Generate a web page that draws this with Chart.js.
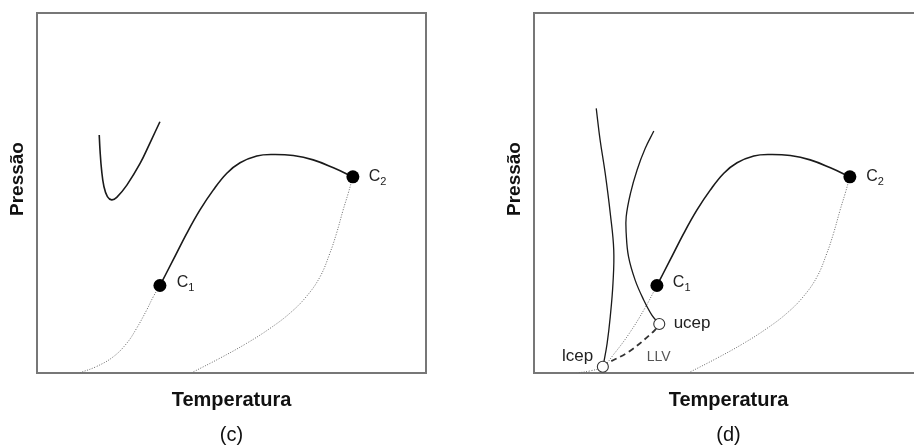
<!DOCTYPE html>
<html>
<head>
<meta charset="utf-8">
<script src="https://cdn.jsdelivr.net/npm/chart.js@4"></script>
<style>
  html, body { margin:0; padding:0; background:#fff; overflow:hidden; width:914px; height:448px; }
  #wc { position:absolute; left:0; top:0; width:457px; height:448px; }
  #wd { position:absolute; left:457px; top:0; width:500px; height:448px; }
</style>
</head>
<body>
<div id="wc"><canvas id="cc"></canvas></div>
<div id="wd"><canvas id="cd"></canvas></div>
<script>
// ---- data (arbitrary units: Temperatura 0-100, Pressão 0-100) ----
const c1Point = [31.6, 24.3];
const c2Point = [81.2, 54.5];
const lcepPoint = [17.7, 1.75];
const ucepPoint = [32.2, 13.6];

const solidT = [31.6, 35.0, 38.5, 41.9, 45.3, 48.8, 52.2, 56.5, 60.7, 65.9, 71.0, 76.2, 81.2];
const solidP = [24.3, 31.4, 38.8, 45.3, 50.8, 55.5, 58.4, 60.3, 60.7, 60.4, 59.2, 57.0, 54.5];

const dotC2T = [81.2, 80.0, 78.7, 77.0, 75.3, 72.8, 69.3, 65.0, 59.9, 53.9, 47.0, 39.8];
const dotC2P = [54.5, 49.9, 45.3, 38.8, 33.3, 26.8, 21.3, 16.6, 12.4, 8.25, 4.1, 0.1];

// panel (c)
const dotC1T_c = [31.6, 29.9, 28.2, 25.6, 23.1, 19.6, 15.3, 11.1];
const dotC1P_c = [24.3, 21.2, 17.5, 12.4, 8.3, 4.5, 1.8, 0.1];
const vT = [16.0, 16.2, 16.6, 17.2, 18.1, 19.2, 20.5, 23.1, 26.5, 29.0, 31.6];
const vP = [66.1, 61.9, 56.4, 51.8, 49.0, 48.1, 48.8, 52.2, 58.2, 63.8, 69.8];

// panel (d)
const dotC1T_d = [31.6, 28.5, 24.5, 20.5, 17.7, 14.5, 11.0];
const dotC1P_d = [24.3, 18.0, 11.0, 5.2, 1.75, 0.6, 0.0];
const leftT = [16.0, 17.0, 18.3, 19.6, 20.5, 20.3, 19.6, 18.8, 17.9, 17.7];
const leftP = [73.5, 64.7, 55.5, 44.4, 34.2, 24.9, 15.6, 8.25, 2.7, 1.75];
const midT = [30.8, 28.6, 26.5, 24.8, 23.7, 23.7, 24.3, 26.0, 28.2, 30.3, 32.2];
const midP = [67.2, 62.4, 56.4, 49.9, 43.4, 38.8, 32.3, 25.8, 20.3, 16.1, 13.6];
const llvT = [17.7, 19.0, 24.2, 30.6, 32.2];
const llvP = [1.75, 2.8, 5.8, 11.4, 13.6];

const xTitle = 'Temperatura';
const yTitle = 'Pressão';

function pts(T, P) { return T.map((t, i) => ({ x: t, y: P[i] })); }

const FONT = "'Liberation Sans', Arial, sans-serif";

function solidLine(T, P, w) {
  return { order: 2, data: pts(T, P), showLine: true, pointRadius: 0, borderColor: '#1a1a1a', borderWidth: w || 1.6, tension: 0.4, fill: false };
}
function dotLine(T, P) {
  return { order: 3, data: pts(T, P), showLine: true, pointRadius: 0, borderColor: '#666', borderWidth: 1, borderDash: [1, 1.6], tension: 0.4, fill: false };
}
function dashLine(T, P) {
  return { order: 2, data: pts(T, P), showLine: true, pointRadius: 0, borderColor: '#333', borderWidth: 1.8, borderDash: [6, 4], tension: 0.4, fill: false };
}
function filledPt(p) {
  return { order: 0, data: [{ x: p[0], y: p[1] }], showLine: false, pointRadius: 6.5, pointHoverRadius: 6.5, pointBackgroundColor: '#000', pointBorderColor: '#000', pointBorderWidth: 0, clip: false };
}
function openPt(p) {
  return { order: 0, data: [{ x: p[0], y: p[1] }], showLine: false, pointRadius: 5.5, pointHoverRadius: 5.5, pointBackgroundColor: '#fff', pointBorderColor: '#333', pointBorderWidth: 1.1, clip: false };
}

const framePlugin = {
  id: 'frame',
  beforeDatasetsDraw(chart) {
    const a = chart.chartArea, ctx = chart.ctx;
    ctx.save();
    ctx.strokeStyle = '#777';
    ctx.lineWidth = 2;
    ctx.strokeRect(a.left, a.top, a.right - a.left, a.bottom - a.top);
    ctx.restore();
  },
  afterDraw(chart) {
    const a = chart.chartArea, ctx = chart.ctx;
    ctx.save();
    ctx.translate(a.left - 19, a.top + 166);
    ctx.rotate(-Math.PI / 2);
    ctx.font = 'bold 19px ' + FONT;
    ctx.fillStyle = '#111';
    ctx.textAlign = 'center';
    ctx.textBaseline = 'middle';
    ctx.fillText(yTitle, 0, 0);
    ctx.restore();
  }
};

const labelPlugin = {
  id: 'labels',
  afterDatasetsDraw(chart, args, opts) {
    const ctx = chart.ctx, xs = chart.scales.x, ys = chart.scales.y;
    (opts.items || []).forEach(it => {
      const x = xs.getPixelForValue(it.t), y = ys.getPixelForValue(it.p);
      ctx.save();
      ctx.fillStyle = it.color || '#222';
      ctx.textAlign = 'left';
      ctx.textBaseline = 'middle';
      ctx.font = (it.size || 16) + 'px ' + FONT;
      ctx.fillText(it.text, x, y);
      if (it.sub) {
        const w = ctx.measureText(it.text).width;
        ctx.font = '11px ' + FONT;
        ctx.fillText(it.sub, x + w, y + 5);
      }
      ctx.restore();
    });
  }
};

function makeOptions(yWidth, padRight, letter, items) {
  return {
    responsive: true,
    maintainAspectRatio: false,
    animation: false,
    events: [],
    layout: { padding: { left: 0, top: 13, right: padRight, bottom: 0 } },
    scales: {
      x: {
        type: 'linear', min: 0, max: 100,
        grid: { display: false }, border: { display: false },
        ticks: { display: false },
        title: { display: true, text: xTitle, color: '#111', font: { family: FONT, size: 20, weight: 'bold' }, padding: { top: 0, bottom: 11 } },
        afterFit(s) { s.height = 50; }
      },
      y: {
        type: 'linear', min: 0, max: 100,
        grid: { display: false }, border: { display: false },
        ticks: { display: false },
        title: { display: false },
        afterFit(s) { s.width = yWidth; }
      }
    },
    plugins: {
      legend: { display: false },
      tooltip: { enabled: false },
      title: { display: true, text: letter, position: 'bottom', fullSize: false, color: '#111', font: { family: FONT, size: 20, weight: 'normal' }, padding: { top: 0, bottom: 1 } },
      labels: { items: items }
    }
  };
}

const labelsC = [
  { text: 'C', sub: '1', t: 35.9, p: 25.1 },
  { text: 'C', sub: '2', t: 85.3, p: 54.5 }
];
const labelsD = [
  { text: 'C', sub: '1', t: 35.7, p: 25.1 },
  { text: 'C', sub: '2', t: 85.4, p: 54.5 },
  { text: 'ucep', t: 35.9, p: 13.8, size: 17 },
  { text: 'lcep', t: 7.2, p: 4.5, size: 17 },
  { text: 'LLV', t: 29.0, p: 4.4, size: 14, color: '#555' }
];

new Chart(document.getElementById('cc'), {
  type: 'scatter',
  data: { datasets: [
    dotLine(dotC1T_c, dotC1P_c),
    dotLine(dotC2T, dotC2P),
    solidLine(solidT, solidP),
    solidLine(vT, vP),
    filledPt(c1Point),
    filledPt(c2Point)
  ] },
  options: makeOptions(37, 31, '(c)', labelsC),
  plugins: [framePlugin, labelPlugin]
});

new Chart(document.getElementById('cd'), {
  type: 'scatter',
  data: { datasets: [
    dotLine(dotC1T_d, dotC1P_d),
    dotLine(dotC2T, dotC2P),
    solidLine(solidT, solidP),
    solidLine(leftT, leftP, 1.3),
    solidLine(midT, midP, 1.3),
    dashLine(llvT, llvP),
    filledPt(c1Point),
    filledPt(c2Point),
    openPt(lcepPoint),
    openPt(ucepPoint)
  ] },
  options: makeOptions(77, 34, '(d)', labelsD),
  plugins: [framePlugin, labelPlugin]
});
</script>
</body>
</html>
